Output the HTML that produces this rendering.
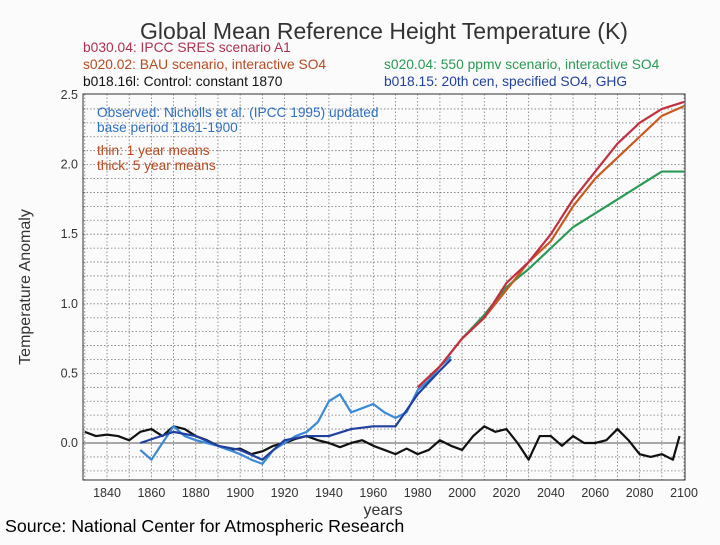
<!DOCTYPE html>
<html><head><meta charset="utf-8"><style>
body{margin:0;width:720px;height:540px;background:#fbfbfb;overflow:hidden;font-family:"Liberation Sans",sans-serif}
</style></head><body>
<svg width="720" height="540">
<text x="384" y="39" text-anchor="middle" font-size="23" fill="#333">Global Mean Reference Height Temperature (K)</text>
<g font-size="13.8">
<text x="83" y="52" fill="#b03050">b030.04: IPCC SRES scenario A1</text>
<text x="83" y="69" fill="#b84a20">s020.02: BAU scenario, interactive SO4</text>
<text x="83" y="86" fill="#111">b018.16l: Control: constant 1870</text>
<text x="384" y="69" fill="#2a9a55">s020.04: 550 ppmv scenario, interactive SO4</text>
<text x="384" y="86" fill="#2040a0">b018.15: 20th cen, specified SO4, GHG</text>
</g>
<g id="grid"></g>
<g id="series"></g>
<rect x="83" y="94" width="602" height="386" fill="none" stroke="#333" stroke-width="1"/>
<g id="axes" font-size="12.5" fill="#333"></g>
<g font-size="13.7">
<text x="97" y="117" fill="#3070c0">Observed: Nicholls et al. (IPCC 1995) updated</text>
<text x="97" y="132" fill="#3070c0">base period 1861-1900</text>
<text x="97" y="155" fill="#b84a20">thin: 1 year means</text>
<text x="97" y="170" fill="#b84a20">thick: 5 year means</text>
</g>
<text x="30" y="287" transform="rotate(-90 30 287)" text-anchor="middle" font-size="16" fill="#333">Temperature Anomaly</text>
<text x="383" y="515" text-anchor="middle" font-size="16" fill="#333">years</text>
<text x="5" y="532" font-size="17.8" fill="#000">Source:  National Center for Atmospheric Research</text>
</svg>
<script>
const yTicks=[0.0,0.5,1.0,1.5,2.0,2.5];
const xTicks=[1840,1860,1880,1900,1920,1940,1960,1980,2000,2020,2040,2060,2080,2100];
const controlYears=[1830,1835,1840,1845,1850,1855,1860,1865,1870,1875,1880,1885,1890,1895,1900,1905,1910,1915,1920,1925,1930,1935,1940,1945,1950,1955,1960,1965,1970,1975,1980,1985,1990,1995,2000,2005,2010,2015,2020,2025,2030,2035,2040,2045,2050,2055,2060,2065,2070,2075,2080,2085,2090,2095,2098];
const controlVals=[0.08,0.05,0.06,0.05,0.02,0.08,0.10,0.05,0.12,0.10,0.05,0.02,-0.02,-0.05,-0.04,-0.08,-0.06,-0.02,0.0,0.03,0.05,0.02,0.0,-0.03,0.0,0.02,-0.02,-0.05,-0.08,-0.04,-0.08,-0.05,0.02,-0.02,-0.05,0.05,0.12,0.08,0.10,0.0,-0.12,0.05,0.05,-0.02,0.05,0.0,0.0,0.02,0.10,0.02,-0.08,-0.10,-0.08,-0.12,0.05];
const obsYears=[1855,1860,1865,1870,1875,1880,1885,1890,1895,1900,1905,1910,1915,1920,1925,1930,1935,1940,1945,1950,1955,1960,1965,1970,1975,1980,1985,1990,1995];
const obsVals=[-0.05,-0.12,0.0,0.12,0.05,0.02,0.0,-0.02,-0.05,-0.08,-0.12,-0.15,-0.05,0.0,0.05,0.08,0.15,0.30,0.35,0.22,0.25,0.28,0.22,0.18,0.22,0.38,0.45,0.55,0.62];
const cenYears=[1855,1870,1880,1890,1900,1910,1920,1930,1940,1950,1960,1970,1980,1990,1995];
const cenVals=[0.0,0.08,0.05,-0.02,-0.05,-0.12,0.02,0.05,0.05,0.10,0.12,0.12,0.35,0.52,0.60];
const scenYears=[1980,1990,2000,2010,2020,2030,2040,2050,2060,2070,2080,2090,2100];
const a1Vals=[0.40,0.55,0.75,0.90,1.15,1.30,1.50,1.75,1.95,2.15,2.30,2.40,2.45];
const bauVals=[0.40,0.55,0.75,0.90,1.10,1.30,1.45,1.70,1.90,2.05,2.20,2.35,2.42];
const greenYears=[2000,2010,2020,2030,2040,2050,2060,2070,2080,2090,2100];
const greenVals=[0.75,0.92,1.12,1.25,1.40,1.55,1.65,1.75,1.85,1.95,1.95];

const NS='http://www.w3.org/2000/svg';
const X=y=>107+(y-1840)*(684-107)/260;
const Y=v=>443-v*139.2;
const grid=document.getElementById('grid'),axes=document.getElementById('axes'),ser=document.getElementById('series');
function mk(t,a,p){const e=document.createElementNS(NS,t);for(const k in a)e.setAttribute(k,a[k]);p.appendChild(e);return e;}
for(let yr=1830;yr<=2100;yr+=10){
  const l=mk('line',{x1:X(yr),x2:X(yr),y1:94,y2:480,stroke:'#777','stroke-dasharray':'1.5 2','stroke-width':0.8},grid);
  
  
}
for(let v=-0.2;v<=2.5;v+=0.1){
  const l=mk('line',{x1:83,x2:685,y1:Y(v),y2:Y(v),stroke:'#777','stroke-dasharray':'1.5 2','stroke-width':0.8},grid);
  
  
}
const zl=mk('line',{x1:83,x2:685,y1:Y(0),y2:Y(0),stroke:'#555','stroke-width':1},grid);


yTicks.forEach(v=>{
  const t=mk('text',{x:78,y:Y(v)+4,'text-anchor':'end'},axes);t.textContent=v.toFixed(1);
  
  
});
xTicks.forEach(v=>{
  const t=mk('text',{x:X(v),y:497,'text-anchor':'middle'},axes);t.textContent=v;
  
  
});
function line(xs,vs,color,w,name){
  const p=mk('polyline',{points:xs.map((x,i)=>X(x)+','+Y(vs[i])).join(' '),fill:'none',stroke:color,'stroke-width':w,'stroke-linejoin':'round'},ser);
  
  
}
line(controlYears,controlVals,'#111',2.2,'control-line');
line(obsYears,obsVals,'#3a8ad8',2.2,'observed-line');
line(cenYears,cenVals,'#2040a0',2.2,'20thcen-line');
line(greenYears,greenVals,'#2a9a55',2.2,'550ppmv-line');
line(scenYears,bauVals,'#c85a20',2.2,'bau-line');
line(scenYears,a1Vals,'#c03040',2.2,'a1-line');
</script>
</body></html>
